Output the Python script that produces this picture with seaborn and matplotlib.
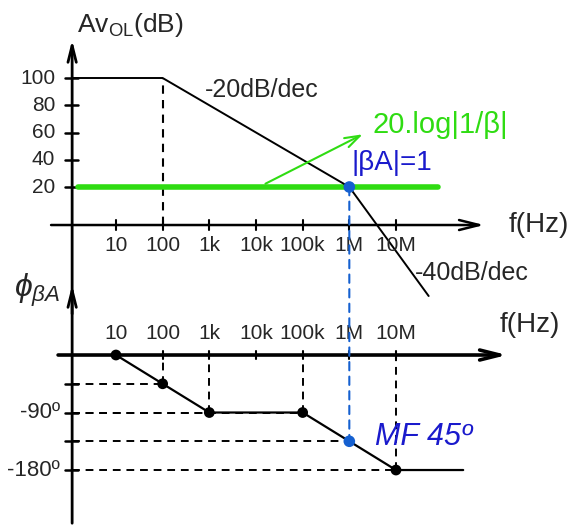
import numpy as np
import matplotlib
matplotlib.use("Agg")
import matplotlib.pyplot as plt
import seaborn as sns
from matplotlib.patches import ConnectionPatch

sns.set_theme(style="white")
plt.rcParams['font.family'] = ['Liberation Sans', 'DejaVu Sans']
plt.rcParams['mathtext.fontset'] = 'custom'
plt.rcParams['mathtext.rm'] = 'Liberation Sans'
plt.rcParams['mathtext.it'] = 'Liberation Sans:italic'

# decade ticks shared by both plots
freq_ticks = [1e1, 1e2, 1e3, 1e4, 1e5, 1e6, 1e7]
freq_labels = ["10", "100", "1k", "10k", "100k", "1M", "10M"]

# open-loop gain (asymptotic)
gain_ticks = [20, 40, 60, 80, 100]
gain_f = [1.15, 1e2, 1e6, 10**7.7]
gain_db = [100, 100, 20, -60]

# feedback line 20.log|1/beta|
beta_f = [1.55, 10**7.9]
beta_db = [20, 20]

# phase of beta*A
phase_f = [1e1, 1e2, 1e3, 1e5, 1e7, 10**8.44]
phase_deg = [0, -45, -90, -90, -180, -180]
phase_dot_f = [1e1, 1e2, 1e3, 1e5, 1e7]
phase_dot_deg = [0, -45, -90, -90, -180]
phase_ticks = [-45, -90, -135, -180]
phase_labels = {-90: "-90º", -180: "-180º"}

# crossover |beta A| = 1
fc = 1e6
fc_db = 20
fc_phase = -135

GREEN = "#2fdc12"
BLUE = "#1a1acc"
DOT_BLUE = "#1560d0"
F0 = 1.15  # position of vertical axis

fig = plt.figure(figsize=(5.73, 5.26), dpi=100)
ax1 = fig.add_axes([0, 0, 1, 1])
ax2 = fig.add_axes([0, 0, 1, 1])
for ax in (ax1, ax2):
    ax.set_xscale("log")
    ax.set_xlim(10**-1.485, 10**10.793)
    ax.axis("off")
ax1.set_ylim(-228.8, 157.25)
ax2.set_ylim(-267.6, 555.6)

dash = (0, (4, 3))

# ---------------- magnitude plot ----------------
ax1.annotate("", xy=(F0, 130), xytext=(F0, -228.8),
             arrowprops=dict(arrowstyle="->,head_length=1.0,head_width=0.25", color="black", lw=2))
ax1.annotate("", xy=(10**8.95, -7.9), xytext=(10**-0.45, -7.9),
             arrowprops=dict(arrowstyle="->,head_length=1.2,head_width=0.3", color="black", lw=1.8))
for y in gain_ticks:
    ax1.plot([10**-0.09, 10**0.19], [y, y], color="black", lw=1.8)
    ax1.text(10**-0.3, y, str(y), ha="right", va="center", fontsize=15)
for f, lab in zip(freq_ticks, freq_labels):
    ax1.plot([f, f], [-4.5, -11.5], color="black", lw=1.5)
    ax1.text(f, -22.6, lab, ha="center", va="center", fontsize=15)
ax1.text(10**0.17, 139, r"Av$_{\mathrm{OL}}$(dB)", ha="left", va="center", fontsize=19)
ax1.text(10**10.05, -7.9, "f(Hz)", ha="center", va="center", fontsize=20)

ax1.vlines(gain_f[1], -7.9, gain_db[1], color="black", lw=1.5, linestyles=dash)
sns.lineplot(x=beta_f, y=beta_db, ax=ax1, color=GREEN, lw=4)
sns.lineplot(x=gain_f, y=gain_db, ax=ax1, color="black", lw=1.4)
ax1.annotate("", xy=(10**6.34, 59.6), xytext=(10**4.15, 21.5),
             arrowprops=dict(arrowstyle="->,head_length=0.9,head_width=0.3", color=GREEN, lw=1.5))
ax1.text(10**6.5, 65.5, "20.log|1/β|", color=GREEN, ha="left", va="center", fontsize=21)
ax1.text(10**6.05, 37.6, "|βA|=1", color=BLUE, ha="left", va="center", fontsize=20)
ax1.text(10**2.9, 91, "-20dB/dec", ha="left", va="center", fontsize=18)
ax1.text(10**7.4, -43, "-40dB/dec", ha="left", va="center", fontsize=18)
sns.scatterplot(x=[fc], y=[fc_db], ax=ax1, color=DOT_BLUE, s=70, edgecolor="none", zorder=5)

# ---------------- phase plot ----------------
ax2.annotate("", xy=(F0, 114), xytext=(F0, 60),
             arrowprops=dict(arrowstyle="->,head_length=1.0,head_width=0.25", color="black", lw=2))
ax2.annotate("", xy=(10**9.44, 0), xytext=(10**-0.3, 0),
             arrowprops=dict(arrowstyle="->,head_length=1.2,head_width=0.3", color="black", lw=2.6))
for f, lab in zip(freq_ticks, freq_labels):
    ax2.plot([f, f], [6, -6], color="black", lw=1.5)
    ax2.text(f, 34.4, lab, ha="center", va="center", fontsize=15)
ax2.text(10**9.87, 47, "f(Hz)", ha="center", va="center", fontsize=20)
for y in phase_ticks:
    ax2.plot([10**-0.09, 10**0.19], [y, y], color="black", lw=1.8)
for y, lab in phase_labels.items():
    ax2.text(10**-0.2, y, lab, ha="right", va="center", fontsize=16)
ax2.text(10**-0.68, 101.7, r"$\phi_{\beta A}$", ha="center", va="center", fontsize=23)

# guide lines to the breakpoints
for f, p in zip(phase_dot_f[1:], phase_dot_deg[1:]):
    ax2.vlines(f, p, 0, color="black", lw=1.4, linestyles=dash)
    ax2.hlines(p, F0, f, color="black", lw=1.4, linestyles=dash)
ax2.hlines(fc_phase, F0, fc, color="black", lw=1.4, linestyles=dash)

sns.lineplot(x=phase_f, y=phase_deg, ax=ax2, color="black", lw=1.6)
sns.scatterplot(x=phase_dot_f, y=phase_dot_deg, ax=ax2, color="black", s=60, edgecolor="none", zorder=5)
sns.scatterplot(x=[fc], y=[fc_phase], ax=ax2, color=DOT_BLUE, s=70, edgecolor="none", zorder=5)
ax2.text(10**6.55, -128, "MF 45º", color=BLUE, style="italic", ha="left", va="center", fontsize=22)

# blue dashed link between the two plots at the crossover
con = ConnectionPatch(xyA=(fc, fc_db), coordsA=ax1.transData,
                      xyB=(fc, fc_phase), coordsB=ax2.transData,
                      color=DOT_BLUE, lw=1.5, linestyle=dash)
fig.add_artist(con)

fig.savefig("out.png", dpi=100)
